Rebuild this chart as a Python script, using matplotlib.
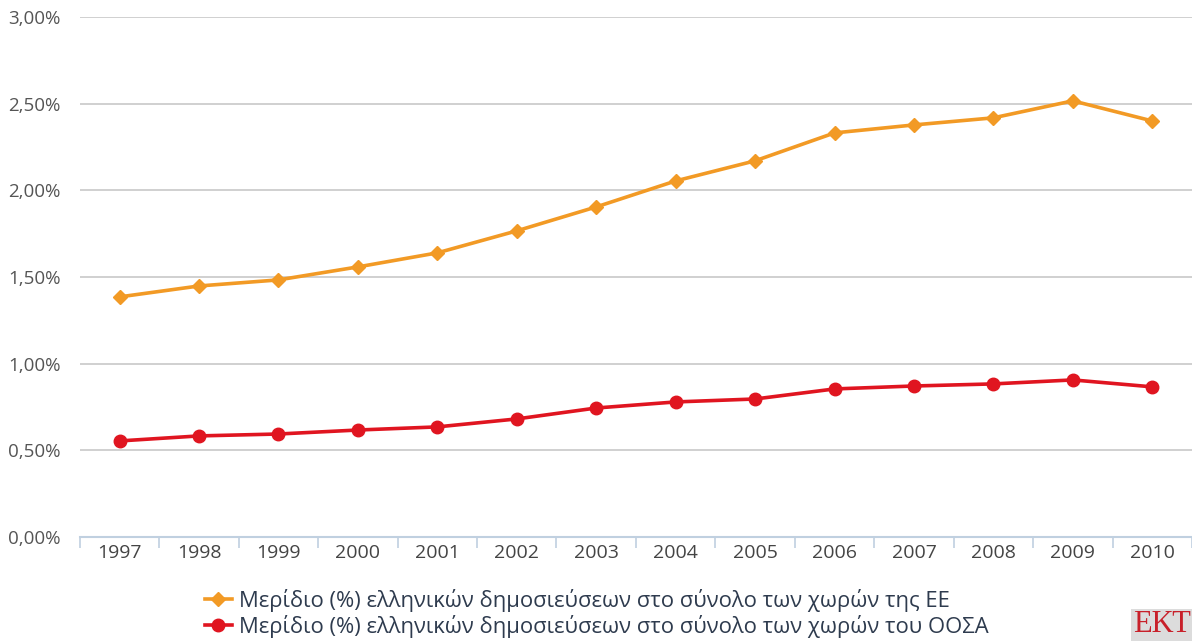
import matplotlib.pyplot as plt
from matplotlib.ticker import FuncFormatter, FixedLocator
import numpy as np

# data
years = ["1997", "1998", "1999", "2000", "2001", "2002", "2003",
         "2004", "2005", "2006", "2007", "2008", "2009", "2010"]
share_eu = [1.385, 1.448, 1.483, 1.558, 1.639, 1.766, 1.904,
            2.054, 2.170, 2.331, 2.377, 2.418, 2.516, 2.400]
share_oecd = [0.554, 0.583, 0.594, 0.617, 0.635, 0.681, 0.744,
              0.779, 0.796, 0.854, 0.871, 0.883, 0.906, 0.866]
label_eu = "Μερίδιο (%) ελληνικών δημοσιεύσεων στο σύνολο των χωρών της ΕΕ"
label_oecd = "Μερίδιο (%) ελληνικών δημοσιεύσεων στο σύνολο των χωρών του ΟΟΣΑ"
yticks = [0, 0.5, 1.0, 1.5, 2.0, 2.5, 3.0]

ORANGE = "#f29a25"
RED = "#e01520"

plt.rcParams['font.family'] = ['Open Sans', 'DejaVu Sans']

fig = plt.figure(figsize=(11.92, 6.42), dpi=100)
ax = fig.add_axes([0.067, 0.1636, 0.933, 0.81])

x = np.arange(len(years))
ax.plot(x, share_eu, color=ORANGE, lw=2.6, marker="D", ms=7.5, label=label_eu, zorder=3)
ax.plot(x, share_oecd, color=RED, lw=2.6, marker="o", ms=9, label=label_oecd, zorder=3)

ax.set_xlim(-0.5, len(years) - 0.5)
ax.set_ylim(0, 3.0)
ax.set_yticks(yticks)
ax.yaxis.set_major_formatter(FuncFormatter(lambda v, p: f"{v:.2f}%".replace(".", ",")))
ax.grid(axis="y", color="#c8c8c8", lw=1.2)
ax.set_axisbelow(True)

# category labels at centres, tick marks on the boundaries
ax.set_xticks(x)
ax.set_xticklabels(years)
ax.xaxis.set_minor_locator(FixedLocator(np.arange(-0.5, len(years), 1.0)))
ax.tick_params(axis="x", which="major", length=0, pad=5, labelsize=14, labelcolor="#444444")
ax.tick_params(axis="x", which="minor", length=8, color="#c0d0e0", width=1.2)
ax.tick_params(axis="y", length=0, pad=14, labelsize=13.5, labelcolor="#555555")

for s in ["top", "right", "left"]:
    ax.spines[s].set_visible(False)
ax.spines["bottom"].set_color("#c0d0e0")
ax.spines["bottom"].set_linewidth(1.5)
ax.spines["bottom"].set_zorder(4)

leg = fig.legend(loc="upper left", bbox_to_anchor=(0.1625, 0.1), frameon=False,
                 fontsize=15.8, handlelength=1.25, handletextpad=0.3,
                 labelspacing=0.15, borderpad=0)
for t in leg.get_texts():
    t.set_color("#2e3b4e")

# logo stub in the bottom right corner
fig.text(0.999, 0.004, "ΕΚΤ", color="#c8202a", fontsize=22, family="Liberation Serif",
         ha="right", va="bottom",
         bbox=dict(facecolor="#dcdcdc", edgecolor="none", pad=1))

fig.savefig("out.png", dpi=100)
